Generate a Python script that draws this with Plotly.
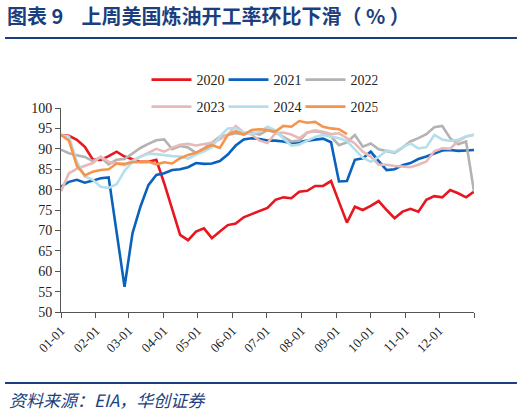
import plotly.graph_objects as go

# 周序号（每年53周）
weeks = list(range(53))

# 炼油开工率（%），按周读取
y2020 = [93.4, 93.2, 92.2, 90.5, 87.4, 87.3, 88.2, 89.3, 88.1, 87.4, 86.8, 86.8, 87.3,
         81.5, 75.0, 68.9, 67.6, 69.7, 70.5, 68.1, 69.7, 71.3, 71.7, 73.2, 74.0, 74.7,
         75.5, 77.5, 78.1, 77.9, 79.5, 79.7, 80.9, 80.9, 82.1, 77.0, 71.9, 75.8, 75.0,
         76.0, 77.2, 75.0, 73.0, 74.6, 75.3, 74.6, 77.5, 78.4, 78.1, 79.9, 79.1, 78.1, 79.5]
y2021 = [80.7, 81.9, 82.4, 81.7, 82.2, 82.8, 83.0, 69.5, 56.2, 69.3, 75.8, 81.1, 83.6,
         84.0, 84.8, 85.0, 85.5, 86.5, 86.3, 86.4, 87.0, 88.6, 90.8, 92.3, 92.6, 92.4,
         92.0, 92.0, 91.8, 91.4, 91.6, 92.0, 92.2, 92.5, 91.6, 82.0, 82.1, 87.3, 87.7,
         89.3, 87.0, 84.8, 85.0, 86.0, 86.5, 87.5, 88.1, 88.8, 89.6, 89.7, 89.5, 89.6, 89.7]
y2022 = [89.8, 88.9, 88.4, 88.0, 87.0, 87.9, 86.2, 87.3, 87.5, 88.9, 90.2, 91.2, 92.1,
         92.3, 89.9, 90.7, 90.3, 89.0, 90.1, 91.5, 93.0, 93.4, 93.8, 93.5, 94.0, 93.5,
         94.6, 94.0, 93.0, 91.8, 92.0, 94.0, 94.3, 94.0, 93.0, 90.9, 91.6, 93.4, 90.5,
         91.3, 89.9, 89.4, 89.0, 90.3, 91.8, 92.6, 93.6, 95.3, 95.6, 92.6, 91.1, 91.8, 79.5]
y2023 = [79.6, 84.0, 85.1, 85.8, 86.5, 88.1, 86.8, 86.4, 86.0, 87.1, 88.1, 89.0, 90.0,
         89.3, 90.3, 91.0, 91.2, 90.8, 91.2, 91.5, 92.3, 93.5, 95.6, 94.0, 93.5, 92.0,
         91.4, 93.8, 94.0, 93.5, 92.6, 94.0, 94.5, 94.2, 93.6, 93.8, 92.6, 91.3, 89.3,
         88.1, 86.1, 86.1, 85.8, 85.6, 85.5, 86.1, 86.9, 89.4, 90.1, 90.0, 91.9, 93.0, 93.4]
y2024 = [93.4, 93.0, 86.8, 83.2, 82.4, 80.7, 80.4, 81.3, 84.6, 86.8, 88.1, 88.8, 88.7,
         88.4, 88.2, 88.1, 87.6, 88.6, 89.4, 90.4, 93.0, 95.0, 95.1, 94.0, 93.6, 94.2,
         95.4, 94.5, 92.5, 90.8, 91.0, 92.0, 92.9, 93.4, 93.0, 92.6, 91.9, 89.8, 87.8,
         86.8, 88.0, 89.6, 89.2, 90.4, 91.3, 90.1, 90.4, 93.4, 92.3, 91.9, 92.2, 93.0, 93.5]
y2025 = [93.4, 92.0, 85.8, 83.5, 84.4, 84.8, 85.0, 86.4, 86.3, 86.7, 86.8, 86.9, 86.2,
         86.7, 86.4, 87.7, 88.5, 89.0, 90.0, 90.9, 90.2, 93.4, 94.3, 93.5, 94.6, 94.8,
         94.6, 94.2, 95.6, 95.4, 96.8, 96.4, 96.6, 95.4, 95.0, 94.8, 93.6]

# 月份刻度
month_days = [0, 31, 60, 91, 121, 152, 182, 213, 244, 274, 305, 335, 366]
month_labels = ["01-01", "02-01", "03-01", "04-01", "05-01", "06-01", "07-01",
                "08-01", "09-01", "10-01", "11-01", "12-01", ""]

series = [
    ("2020", y2020, "#E8161E", "legend"),
    ("2021", y2021, "#0A62BD", "legend"),
    ("2022", y2022, "#B3B3B3", "legend"),
    ("2023", y2023, "#E8B9B9", "legend2"),
    ("2024", y2024, "#B4DFEA", "legend2"),
    ("2025", y2025, "#F5944A", "legend2"),
]

fig = go.Figure()
for name, vals, color, lg in series:
    fig.add_trace(go.Scatter(
        x=weeks[:len(vals)], y=vals, name=name, mode="lines",
        line=dict(color=color, width=2.6),
        legend=lg,
    ))

navy = "#1B3F7E"
serif = "Liberation Serif"
legend_style = dict(
    orientation="h", xanchor="left", yanchor="middle",
    font=dict(family=serif, size=14, color="#222"),
    bgcolor="rgba(0,0,0,0)", itemwidth=40, entrywidth=22,
    traceorder="normal",
)

fig.update_layout(
    width=524, height=414,
    margin=dict(l=61, r=50, t=108, b=102, autoexpand=False),
    paper_bgcolor="white", plot_bgcolor="white",
    showlegend=True,
    legend=dict(x=0.207, y=1.137, **legend_style),
    legend2=dict(x=0.207, y=1.005, **legend_style),
    title=dict(
        text="<b>图表 9\u00a0\u00a0\u00a0\u00a0上周美国炼油开工率环比下滑（\u00a0%\u00a0）</b>",
        x=7 / 524, xref="container", xanchor="left",
        y=1 - 17 / 414, yref="container", yanchor="middle",
        font=dict(family="Noto Sans CJK SC", size=20, color=navy),
    ),
    xaxis=dict(
        range=[0, 52], showgrid=False, zeroline=False,
        showline=True, linecolor="#555", linewidth=1,
        tickvals=[d / 366 * 52 for d in month_days], ticktext=month_labels,
        ticks="outside", ticklen=5, tickcolor="#555", tickangle=-45,
        tickfont=dict(family=serif, size=13, color="#222"),
    ),
    yaxis=dict(
        range=[50, 100], dtick=5, showgrid=False, zeroline=False,
        showline=True, linecolor="#555", linewidth=1,
        ticks="outside", ticklen=5, tickcolor="#555",
        tickfont=dict(family=serif, size=14, color="#222"),
    ),
    shapes=[
        dict(type="line", xref="paper", yref="paper",
             x0=-0.1356, x1=1.104, y0=1.343, y1=1.343,
             line=dict(color=navy, width=2)),
        dict(type="line", xref="paper", yref="paper",
             x0=-0.1356, x1=1.104, y0=-0.348, y1=-0.348,
             line=dict(color=navy, width=2)),
    ],
    annotations=[
        dict(text="<i>资料来源：EIA，华创证券</i>", xref="paper", yref="paper",
             x=(7 - 61) / 413, y=-0.431, xanchor="left", yanchor="middle",
             showarrow=False,
             font=dict(family="Noto Sans CJK SC", size=17, color=navy)),
    ],
)

# 去掉页面默认边距，隐藏工具栏
fig.write_html("out.html", config={"displayModeBar": False},
               post_script="document.body.style.margin='0';")
